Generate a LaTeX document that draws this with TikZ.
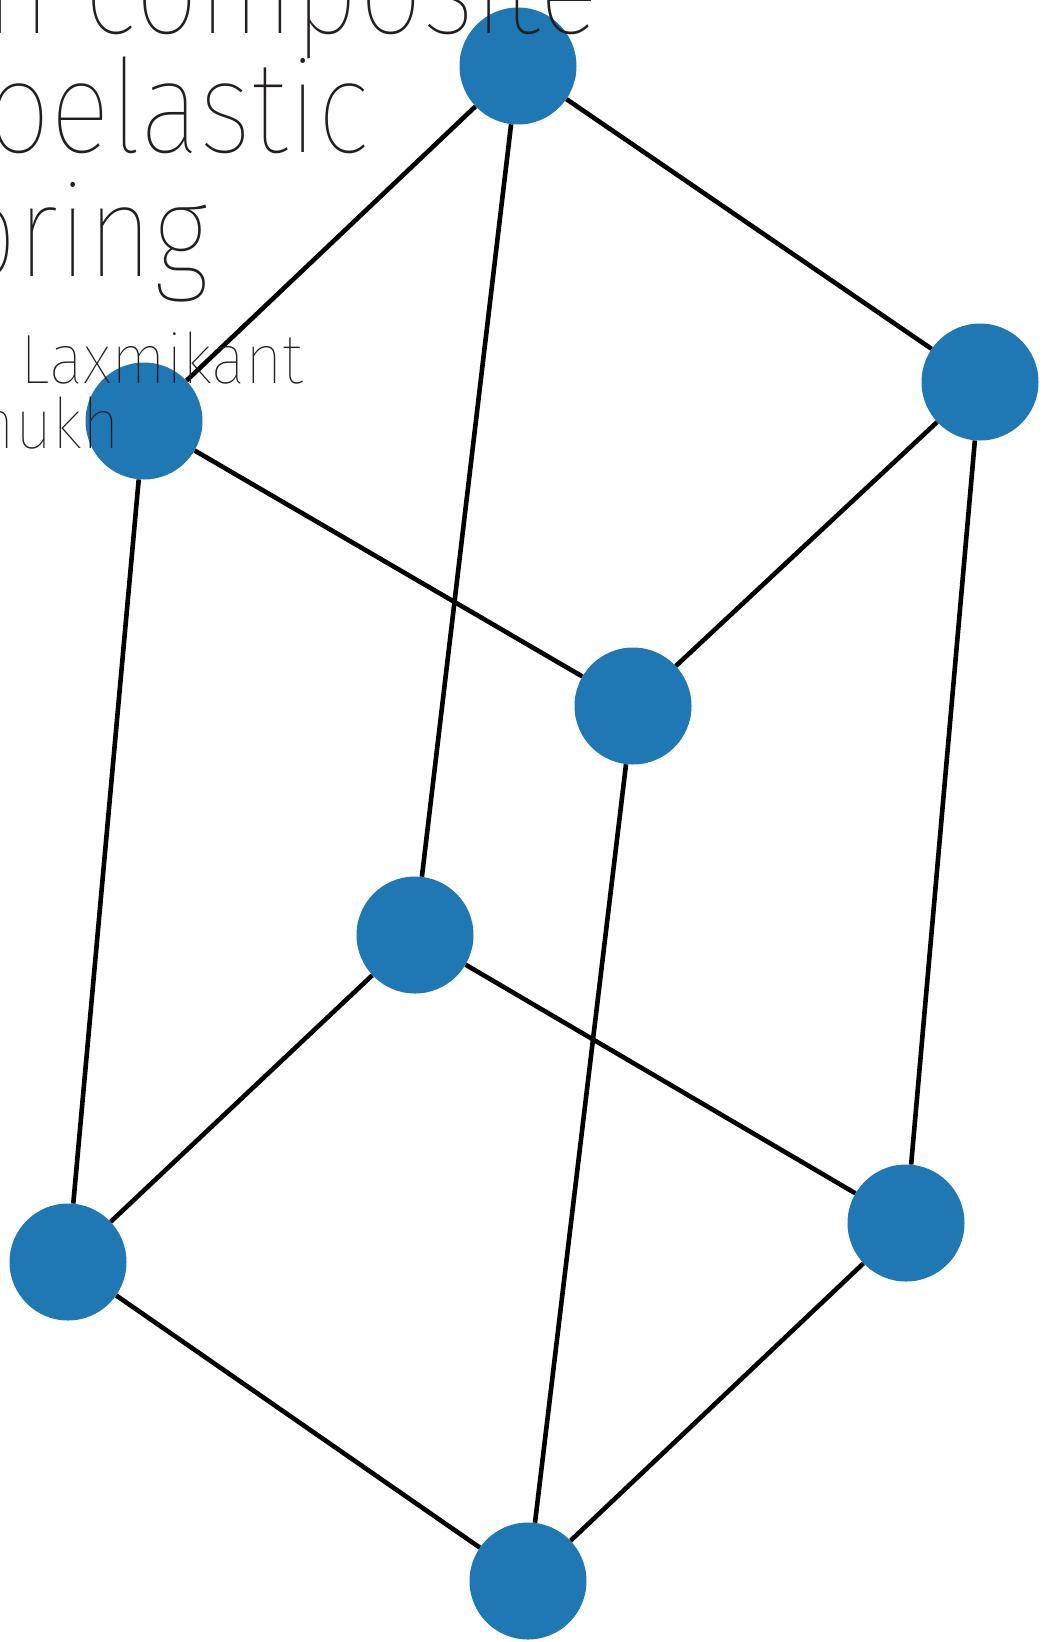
\documentclass[tikz,border=0pt]{standalone}
\usepackage{fontspec}
\IfFontExistsTF{Fira Sans Thin}{\def\thinname{Fira Sans Thin}}{%
	\IfFontExistsTF{Fira Sans ExtraLight}{\def\thinname{Fira Sans ExtraLight}}{%
		\IfFontExistsTF{Fira Sans Light}{\def\thinname{Fira Sans Light}}{%
			\def\thinname{Liberation Sans}}}}
\newfontfamily\titlefont{\thinname}[FakeStretch=0.87]
\newfontfamily\authorfont{\thinname}[FakeStretch=0.92]
\definecolor{tabblue}{HTML}{1F77B4}
\definecolor{inkgray}{HTML}{231F20}
\tikzset{vertex/.style={circle, fill=tabblue, minimum size=117pt, inner sep=0pt},
	edge/.style={line width=4.6pt, black},
	titletext/.style={anchor=base east, inner sep=0pt, text=inkgray, font=\titlefont\fontsize{130}{130}\selectfont},
	authortext/.style={anchor=base east, inner sep=0pt, text=inkgray, font=\authorfont\fontsize{70}{70}\selectfont}}

\begin{document}
\begin{tikzpicture}[x=1pt, y=-1pt]
				\useasboundingbox (0,0) rectangle (1044,1642);
				\node[vertex] (top) at (518,66) {};
				\node[vertex] (rtop) at (980,382) {};
				\node[vertex] (left) at (144,421) {};
				\node[vertex] (mid) at (633,706) {};
				\node[vertex] (back) at (415,935) {};
				\node[vertex] (lbot) at (68,1262) {};
				\node[vertex] (rbot) at (906,1223) {};
				\node[vertex] (bot) at (528,1581) {};
				%
				\draw[edge] (top) -- (left);
				\draw[edge] (top) -- (rtop);
				\draw[edge] (top) -- (back);
				\draw[edge] (rtop) -- (mid);
				\draw[edge] (rtop) -- (rbot);
				\draw[edge] (left) -- (mid);
				\draw[edge] (left) -- (lbot);
				\draw[edge] (mid) -- (bot);
				\draw[edge] (back) -- (lbot);
				\draw[edge] (back) -- (rbot);
				\draw[edge] (lbot) -- (bot);
				\draw[edge] (rbot) -- (bot);
				%
				\node[titletext] (line1) at (599,33) {on composite};
				\node[titletext] (line2) at (370,152) {viscoelastic};
				\node[titletext] (line3) at (209,276) {spring};
				\node[authortext] (line4) at (304,383) {Laxmikant};
				\node[authortext] (line5) at (120,448) {Deshmukh};
			\end{tikzpicture}
\end{document}
